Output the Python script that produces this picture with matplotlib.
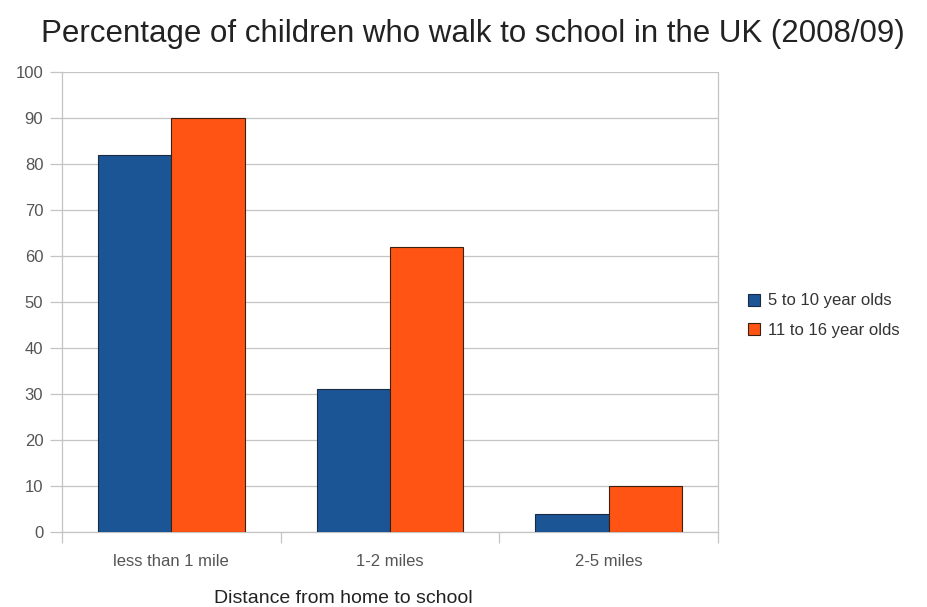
import numpy as np
import matplotlib.pyplot as plt

# data
categories = ["less than 1 mile", "1-2 miles", "2-5 miles"]
young = [82, 31, 4]
older = [90, 62, 10]
series_names = ["5 to 10 year olds", "11 to 16 year olds"]

plt.rcParams["font.family"] = ["Liberation Sans", "DejaVu Sans"]

W, H = 927, 607
fig = plt.figure(figsize=(W / 100, H / 100), dpi=100)
ax = fig.add_axes([62 / W, 75 / H, 656 / W, 460 / H])

x = np.arange(len(categories))
w = 0.336
ax.bar(x - w / 2, young, w, color="#1c5596", edgecolor="#1a2a40", linewidth=0.8,
       label=series_names[0], zorder=3)
ax.bar(x + w / 2, older, w, color="#ff5414", edgecolor="#3a2010", linewidth=0.8,
       label=series_names[1], zorder=3)

ax.set_xlim(-0.5, 2.5)
ax.set_ylim(0, 100)
ax.set_yticks(range(0, 101, 10))
ax.yaxis.grid(True, color="#c4c4c4", linewidth=0.9, zorder=0)
ax.tick_params(axis="y", colors="#c4c4c4", labelcolor="#555555", labelsize=12,
               length=8.5, width=0.9, pad=5)

# category boundary ticks on x, labels at group centres
ax.set_xticks([-0.5, 0.5, 1.5, 2.5])
ax.set_xticklabels([])
ax.set_xticks(x, minor=True)
ax.set_xticklabels(categories, minor=True)
ax.tick_params(axis="x", which="major", colors="#c4c4c4", length=8, width=0.9)
ax.tick_params(axis="x", which="minor", length=0, labelcolor="#555555", labelsize=12, pad=16)

for s in ax.spines.values():
    s.set_color("#c4c4c4")
    s.set_linewidth(0.9)
ax.spines["top"].set_visible(False)

fig.text(343 / W, 1 - 603 / H, "Distance from home to school", fontsize=14,
         color="#222222", ha="center", va="baseline")
fig.text(473 / W, 1 - 42 / H, "Percentage of children who walk to school in the UK (2008/09)",
         fontsize=22.5, color="#222222", ha="center", va="baseline")

ax.legend(loc="center left", bbox_to_anchor=(748 / W, 1 - 315.5 / H),
          bbox_transform=fig.transFigure, frameon=False, borderpad=0, borderaxespad=0,
          fontsize=12, handlelength=0.72, handleheight=0.72, handletextpad=0.5,
          labelspacing=0.85, labelcolor="#333333")

fig.savefig("out.png", dpi=100)
